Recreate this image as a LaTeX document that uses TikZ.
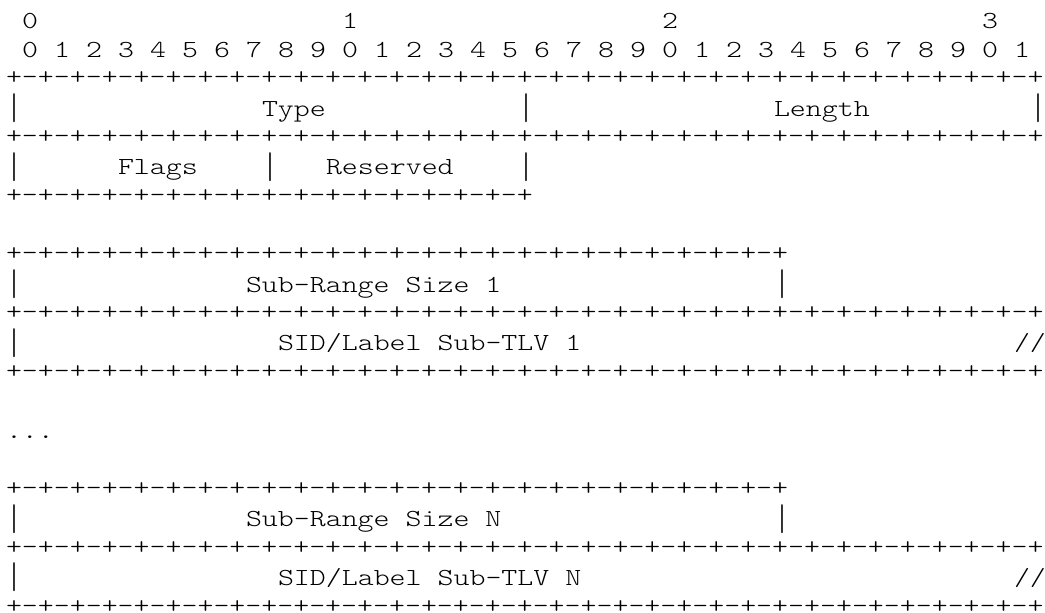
\documentclass[tikz,border=0pt]{standalone}
\usepackage{graphicx}
\newcommand{\rfc}[1]{\scalebox{1.241}[1]{#1}}
\newcommand{\vbar}{\raisebox{-6.5pt}{\resizebox*{16pt}{29pt}{\raisebox{\depth}{|}}}}
\newcommand{\ruler}[1]{+\foreach \k in {1,...,#1}{-+}}
\tikzset{
  bits/.style={anchor=base west, inner sep=0pt, outer sep=0pt,
    font={\fontsize{24.5pt}{29.35pt}\fontseries{l}\ttfamily}},
  rule/.style={bits, yshift=2pt},
}
\begin{document}
\begin{tikzpicture}[x=16pt, y=-29.35pt, shift={(6pt,-28pt)}]
  \useasboundingbox (-6pt,28pt) rectangle ++(1045pt,-613pt);
  % bit numbers
  \foreach \d in {0,...,3}
    \node[bits] (dec\d) at ({20*\d+1},0) {\rfc{\d}};
  \foreach \c in {0,...,31}{
    \pgfmathtruncatemacro\d{mod(\c,10)}
    \node[bits] (bit\c) at ({2*\c+1},1) {\rfc{\d}};
  }
  % fixed header
  \node[rule] (hdrtop) at (0,2) {\rfc{\ruler{32}}};
  \node[bits] (typel) at (0,3) {\vbar};
  \node[bits] (type) at (16,3) {\rfc{Type}};
  \node[bits] (typer) at (32,3) {\vbar};
  \node[bits] (length) at (48,3) {\rfc{Length}};
  \node[bits] (lengthr) at (64,3) {\vbar};
  \node[rule] (hdrmid) at (0,4) {\rfc{\ruler{32}}};
  \node[bits] (flagsl) at (0,5) {\vbar};
  \node[bits] (flags) at (7,5) {\rfc{Flags}};
  \node[bits] (flagsr) at (16,5) {\vbar};
  \node[bits] (reserved) at (20,5) {\rfc{Reserved}};
  \node[bits] (reservedr) at (32,5) {\vbar};
  \node[rule] (hdrbot) at (0,6) {\rfc{\ruler{16}}};
  % sub-range entries
  \foreach \n/\r in {1/8,N/16}{
    \node[rule] (rangetop\n) at (0,\r) {\rfc{\ruler{24}}};
    \node[bits] (rangel\n) at (0,\r+1) {\vbar};
    \node[bits] (range\n) at (15,\r+1) {\rfc{Sub-Range Size \n}};
    \node[bits] (ranger\n) at (48,\r+1) {\vbar};
    \node[rule] (rangebot\n) at (0,\r+2) {\rfc{\ruler{32}}};
    \node[bits] (tlvl\n) at (0,\r+3) {\vbar};
    \node[bits] (tlv\n) at (17,\r+3) {\rfc{SID/Label Sub-TLV \n}};
    \node[bits] (tlvr\n) at (63,\r+3) {\rfc{//}};
    \node[rule] (tlvbot\n) at (0,\r+4) {\rfc{\ruler{32}}};
  }
  \node[bits] (more) at (0,14) {\rfc{...}};
\end{tikzpicture}
\end{document}
